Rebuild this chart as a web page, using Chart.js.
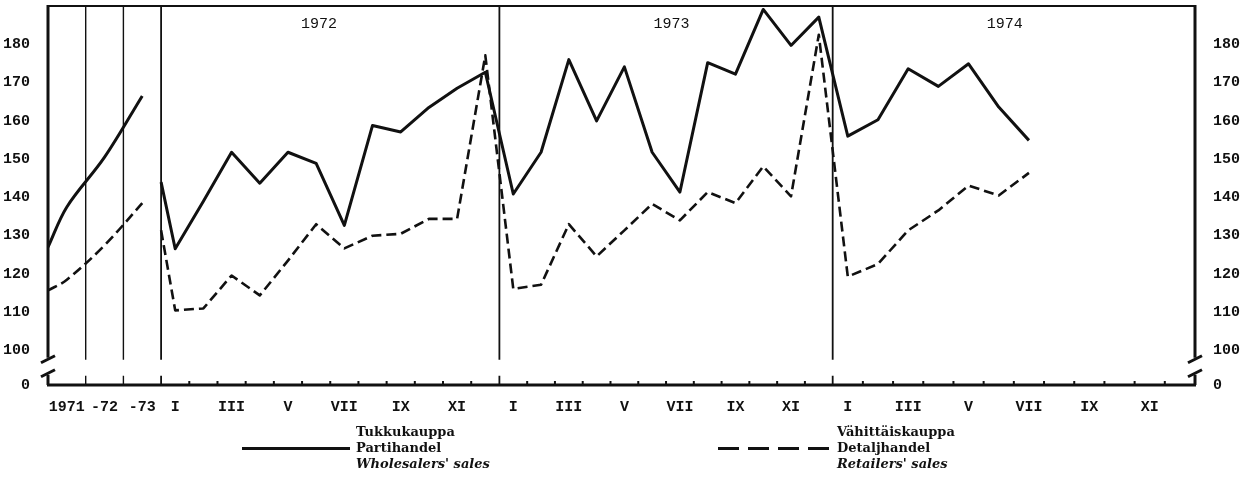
<!DOCTYPE html>
<html>
<head>
<meta charset="utf-8">
<script src="https://cdn.jsdelivr.net/npm/chart.js@4"></script>
<style>
  html, body { margin: 0; padding: 0; background: #fff; }
  #wrap { position: relative; width: 1247px; height: 479px; }
  .key { position: absolute; font: bold 13px "DejaVu Serif", serif; line-height: 16px; color: #111; white-space: nowrap; }
  .key i { font-style: italic; }
  .solid { position: absolute; height: 3px; background: #111; }
  .dashed { position: absolute; height: 3px; background: repeating-linear-gradient(90deg, #111 0 21px, transparent 21px 30px); }
</style>
</head>
<body>
<div id="wrap">
  <canvas id="chart" width="1247" height="479"></canvas>
  <div class="solid" style="left:242px;top:447px;width:108px"></div>
  <div class="key" style="left:356px;top:424px">Tukkukauppa<br>Partihandel<br><i>Wholesalers' sales</i></div>
  <div class="dashed" style="left:718px;top:447px;width:112px"></div>
  <div class="key" style="left:837px;top:424px">Vähittäiskauppa<br>Detaljhandel<br><i>Retailers' sales</i></div>
</div>
<script>
const ink = '#111';

const annualLabels = ['1971', '-72', '-73'];
const monthLabels = ['I', 'III', 'V', 'VII', 'IX', 'XI'];
const years = ['1972', '1973', '1974'];
const yTicks = [100, 110, 120, 130, 140, 150, 160, 170, 180];

// annual part: line starts on the left edge, then 1971, 1972, 1973
const annualX = [-3, -2.5, -1.5, -0.5];
const wholesaleAnnual = [127, 137.5, 150.5, 166.5];
const retailAnnual = [115.7, 118.5, 127.5, 138.5];

// monthly part: first value sits on the 1972 boundary, then I/1972 .. VII/1974
const wholesaleMonthly = [144,
  126.6, 139, 151.8, 143.7, 151.8, 148.9, 132.7, 158.8, 157.1, 163.5, 168.5, 172.7,
  140.9, 151.8, 176, 160, 174.1, 151.8, 141.4, 175.2, 172.2, 189.1, 179.7, 187.1,
  156, 160.3, 173.6, 169, 174.9, 163.6, 154.9];
const retailMonthly = [131.4,
  110.5, 111, 119.6, 114.4, 123.5, 133, 126.7, 130, 130.5, 134.4, 134.4, 177.1,
  116.1, 117.2, 133, 124.6, 131.4, 138.3, 134, 141.4, 138.5, 148.1, 140.3, 182.5,
  119.3, 122.6, 131.4, 136.6, 143.1, 140.5, 146.4];

// x axis units: annual slots -3..0, then months from I/1972 = 0
const monthX = [0].concat(wholesaleMonthly.slice(1).map((_, i) => i + 0.5));

// the hand-drawn sections are not equally wide
const edges = [-3, 0, 12, 24, 36];
const widths = [113, 338, 333, 362];

class SectionScale extends Chart.LinearScale {
  getPixelForValue(v) {
    if (v === null || v === undefined || isNaN(v)) return NaN;
    const total = widths.reduce((s, w) => s + w, 0);
    let acc = 0, i = 0;
    while (i < widths.length - 1 && v > edges[i + 1]) { acc += widths[i]; i++; }
    const f = (acc + (v - edges[i]) / (edges[i + 1] - edges[i]) * widths[i]) / total;
    return this.getPixelForDecimal(f);
  }
}
SectionScale.id = 'section';
Chart.register(SectionScale);

const xTickValues = [-2.5, -1.5, -0.5];
const xTickLabels = annualLabels.slice();
[0, 12, 24].forEach(base => {
  monthLabels.forEach((m, i) => { xTickValues.push(base + i * 2 + 0.5); xTickLabels.push(m); });
});

const dividers = [-2, -1, 0, 12, 24];
const yearPos = [5.6, 18.2, 29.7];
const breakHi = 97.6, breakLo = 94.2;

function seg(ctx, x1, y1, x2, y2, w) {
  ctx.lineWidth = w;
  ctx.beginPath(); ctx.moveTo(x1, y1); ctx.lineTo(x2, y2); ctx.stroke();
}

const frame = {
  id: 'frame',
  beforeDatasetsDraw(chart) {
    const { ctx, chartArea: a, scales: { x, y } } = chart;
    const gTop = y.getPixelForValue(breakHi), gBot = y.getPixelForValue(breakLo);
    ctx.save();
    ctx.strokeStyle = ink;
    seg(ctx, a.left, a.top, a.right, a.top, 2);
    seg(ctx, a.left - 1, a.bottom, a.right + 1, a.bottom, 3);
    [a.left, a.right].forEach(px => {
      seg(ctx, px, a.top - 1, px, gTop - 2, 3);
      seg(ctx, px, gBot + 2, px, a.bottom, 3);
    });
    dividers.forEach(v => {
      const px = x.getPixelForValue(v);
      seg(ctx, px, a.top, px, gTop, v < 0 ? 1.4 : 1.8);
      seg(ctx, px, gBot + 3, px, a.bottom, v < 0 ? 1.4 : 1.8);
    });
    [0, 12, 24].forEach(base => {
      for (let m = 1; m < 12; m++) {
        const px = x.getPixelForValue(base + m);
        seg(ctx, px, a.bottom, px, a.bottom - 4, 2);
      }
    });
    ctx.fillStyle = ink;
    ctx.font = '15px "Liberation Mono", monospace';
    ctx.textAlign = 'center';
    ctx.textBaseline = 'middle';
    years.forEach((t, i) => ctx.fillText(t, x.getPixelForValue(yearPos[i]), a.top + 18));
    ctx.restore();
  },
  afterDraw(chart) {
    const { ctx, chartArea: a, scales: { y } } = chart;
    const gTop = y.getPixelForValue(breakHi), gBot = y.getPixelForValue(breakLo);
    ctx.save();
    ctx.strokeStyle = ink;
    [a.left, a.right].forEach(px => {
      seg(ctx, px - 7, gTop + 3, px + 7, gTop - 4, 3);
      seg(ctx, px - 7, gBot + 4, px + 7, gBot - 3, 3);
    });
    ctx.restore();
  }
};

const tickFont = { family: '"Liberation Mono", monospace', size: 15, weight: 'bold' };

function yAxis(pos, w) {
  return {
    position: pos, min: 91, max: 190,
    grid: { display: false }, border: { display: false },
    afterBuildTicks: s => { s.ticks = [91].concat(yTicks).map(v => ({ value: v })); },
    afterFit: s => { s.width = w; s.paddingTop = 0; s.paddingBottom = 0; },
    ticks: { padding: 10, color: ink, font: tickFont, callback: v => v < 100 ? '0' : String(v) }
  };
}

new Chart(document.getElementById('chart'), {
  type: 'line',
  data: {
    datasets: [
      { data: annualX.map((v, i) => ({ x: v, y: wholesaleAnnual[i] })), borderColor: ink, borderWidth: 3, tension: 0.35 },
      { data: annualX.map((v, i) => ({ x: v, y: retailAnnual[i] })), borderColor: ink, borderWidth: 2.6, borderDash: [10, 5], tension: 0.35 },
      { data: monthX.map((v, i) => ({ x: v, y: wholesaleMonthly[i] })), borderColor: ink, borderWidth: 3 },
      { data: monthX.map((v, i) => ({ x: v, y: retailMonthly[i] })), borderColor: ink, borderWidth: 2.6, borderDash: [10, 5] }
    ]
  },
  options: {
    responsive: false,
    animation: false,
    layout: { padding: { top: 6 } },
    elements: { point: { radius: 0 }, line: { borderJoinStyle: 'round' } },
    plugins: { legend: { display: false }, tooltip: { enabled: false } },
    scales: {
      x: {
        type: 'section', min: -3, max: 36,
        grid: { display: false }, border: { display: false },
        afterBuildTicks: s => { s.ticks = xTickValues.map(v => ({ value: v })); },
        afterFit: s => { s.height = 94; s.paddingLeft = 0; s.paddingRight = 0; },
        ticks: { autoSkip: false, maxRotation: 0, padding: 5, color: ink, font: tickFont, callback: (v, i) => xTickLabels[i] }
      },
      y: yAxis('left', 48),
      y2: yAxis('right', 52)
    }
  },
  plugins: [frame]
});
</script>
</body>
</html>
